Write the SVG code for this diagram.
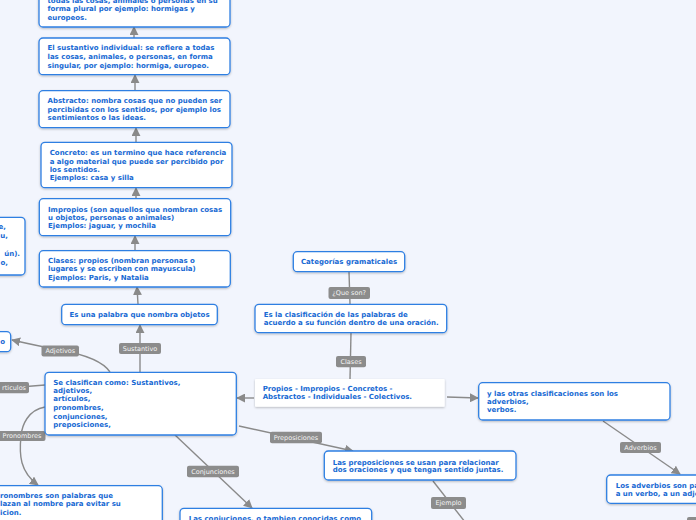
<svg xmlns="http://www.w3.org/2000/svg" width="696" height="520" viewBox="0 0 696 520">
<defs>
<filter id="sh" x="-10%" y="-20%" width="120%" height="150%">
<feDropShadow dx="0" dy="1" stdDeviation="0.8" flood-color="#000" flood-opacity="0.25"/>
</filter>
<marker id="ah" markerUnits="userSpaceOnUse" markerWidth="9" markerHeight="9" viewBox="0 0 10 10" refX="9" refY="5" orient="auto">
<path d="M0,0 L10,5 L0,10 Z" fill="#8a8a8a"/>
</marker>
<style>
.n{fill:#fff;stroke:#2f7fe2;stroke-width:1.3;filter:url(#sh)}
.p{fill:#fff;stroke:none;filter:url(#sh)}
.t{font-family:"DejaVu Sans",Verdana,sans-serif;font-weight:bold;font-size:7px;fill:#1769d3}
.c{fill:none;stroke:#8a8a8a;stroke-width:1.4}
.lb{fill:#8c8c8c}
.lt{font-family:"DejaVu Sans",Verdana,sans-serif;font-size:6.5px;fill:#f4f4f4;text-anchor:middle}
</style>
</defs>
<rect width="696" height="520" fill="#f2f5fd"/>

<g id="connectors">
<path class="c" d="M134,38 L134,27" marker-end="url(#ah)"/>
<path class="c" d="M135,91 L135,75" marker-end="url(#ah)"/>
<path class="c" d="M136,142 L136,128" marker-end="url(#ah)"/>
<path class="c" d="M136,199 L136,188" marker-end="url(#ah)"/>
<path class="c" d="M135,251 L135,236" marker-end="url(#ah)"/>
<path class="c" d="M138,304 L137,287" marker-end="url(#ah)"/>
<path class="c" d="M140,372 L140,325" marker-end="url(#ah)"/>
<path class="c" d="M110,372 C102,360 82,354 60,350 S25,343 12,340" marker-end="url(#ah)"/>
<path class="c" d="M45,385 L20,387"/>
<path class="c" d="M45,407 C28,410 22,425 21,436 C19,455 20,472 38,485" marker-end="url(#ah)"/>
<path class="c" d="M175,435 L252,508" marker-end="url(#ah)"/>
<path class="c" d="M239,426 L353,451" marker-end="url(#ah)"/>
<path class="c" d="M433,481 L465,522"/>
<path class="c" d="M254,398 L237,398" marker-end="url(#ah)"/>
<path class="c" d="M447,397 L478,398" marker-end="url(#ah)"/>
<path class="c" d="M349,272 L350,304"/>
<path class="c" d="M351,333 L350,379"/>
<path class="c" d="M603,421 L680,474" marker-end="url(#ah)"/>

<rect class="lb" x="119" y="343" width="42" height="11" rx="2"/>
<text class="lt" x="140" y="350.8">Sustantivo</text>
<rect class="lb" x="41.5" y="345.5" width="37.5" height="11" rx="2"/>
<text class="lt" x="60.3" y="353.3">Adjetivos</text>
<rect class="lb" x="-10" y="382" width="39" height="11.3" rx="2"/>
<text class="lt" x="26" y="389.8" style="text-anchor:end">rticulos</text>
<rect class="lb" x="-6" y="431" width="51.5" height="10" rx="2"/>
<text class="lt" x="22" y="438.3">Pronombres</text>
<rect class="lb" x="187" y="465.7" width="52" height="11.5" rx="2"/>
<text class="lt" x="213" y="473.6">Conjunciones</text>
<rect class="lb" x="270" y="431.7" width="52" height="11.5" rx="2"/>
<text class="lt" x="296" y="439.6">Preposiciones</text>
<rect class="lb" x="431" y="497" width="35" height="12" rx="2"/>
<text class="lt" x="448.5" y="505.2">Ejemplo</text>
<rect class="lb" x="328.5" y="287" width="41.5" height="12" rx="2"/>
<text class="lt" x="349.2" y="295.2">¿Que son?</text>
<rect class="lb" x="336" y="356" width="30" height="11.3" rx="2"/>
<text class="lt" x="351" y="364">Clases</text>
<rect class="lb" x="620" y="442" width="41" height="11" rx="2"/>
<text class="lt" x="640.5" y="449.8">Adverbios</text>
<rect class="lb" x="687" y="517" width="20" height="10" rx="2"/>
</g>

<g id="n-colectivo">
<rect class="n" x="39" y="-10" width="191" height="37" rx="4"/>
<text class="t" x="47.5" y="2.5">todas las cosas, animales o personas en su</text>
<text class="t" x="47.5" y="11.2">forma plural por ejemplo: hormigas y</text>
<text class="t" x="47.5" y="19.8">europeos.</text>
</g>

<g id="n-individual">
<rect class="n" x="39" y="38" width="191" height="36.7" rx="4"/>
<text class="t" x="47.5" y="50.2">El sustantivo individual:  se refiere a todas</text>
<text class="t" x="47.5" y="58.8">las cosas, animales, o personas, en forma</text>
<text class="t" x="47.5" y="67.5">singular, por ejemplo: hormiga, europeo.</text>
</g>

<g id="n-abstracto">
<rect class="n" x="39" y="90.7" width="191" height="37" rx="4"/>
<text class="t" x="47.5" y="102.8">Abstracto: nombra cosas que no pueden ser</text>
<text class="t" x="47.5" y="111.5">percibidas con los sentidos, por ejemplo los</text>
<text class="t" x="47.5" y="119.8">sentimientos o las ideas.</text>
</g>

<g id="n-concreto">
<rect class="n" x="41" y="142.3" width="191" height="45.4" rx="4"/>
<text class="t" x="49.7" y="155.2">Concreto: es un termino que hace referencia</text>
<text class="t" x="49.7" y="163.5">a algo material que puede ser percibido por</text>
<text class="t" x="49.7" y="171.8">los sentidos.</text>
<text class="t" x="49.7" y="179.8">Ejemplos: casa y silla</text>
</g>

<g id="n-impropios">
<rect class="n" x="39.3" y="198.7" width="191.4" height="37" rx="4"/>
<text class="t" x="48" y="211.5">Impropios (son aquellos que nombran cosas</text>
<text class="t" x="48" y="220.2">u objetos, personas o animales)</text>
<text class="t" x="48" y="228.2">Ejemplos: jaguar, y mochila</text>
</g>

<g id="n-clases">
<rect class="n" x="39.3" y="250.7" width="191" height="36.3" rx="4"/>
<text class="t" x="48" y="262.8">Clases: propios (nombran personas o</text>
<text class="t" x="48" y="270.8">lugares y se escriben con mayuscula)</text>
<text class="t" x="48" y="279.5">Ejemplos: Paris, y Natalia</text>
</g>

<g id="n-left-top">
<rect class="n" x="-20" y="217.3" width="45" height="57.7" rx="4"/>
<text class="t" x="6" y="228.5" style="text-anchor:end">e,</text>
<text class="t" x="8" y="238" style="text-anchor:end">u,</text>
<text class="t" x="20" y="256" style="text-anchor:end">ún).</text>
<text class="t" x="8" y="265" style="text-anchor:end">o,</text>
</g>

<g id="n-palabra">
<rect class="n" x="61.7" y="304.3" width="155.6" height="20.4" rx="4"/>
<text class="t" x="139.5" y="316.8" style="text-anchor:middle">Es una palabra que nombra objetos</text>
</g>

<g id="n-adjetivos">
<rect class="n" x="-20" y="331.7" width="30.7" height="20" rx="4"/>
<text class="t" x="5" y="343.5" style="text-anchor:end">o</text>
</g>

<g id="n-main">
<rect class="n" x="45" y="372.3" width="191.3" height="62.7" rx="4"/>
<text class="t" x="53.3" y="385.2">Se clasifican como: Sustantivos,</text>
<text class="t" x="53.3" y="392.8">adjetivos,</text>
<text class="t" x="53.3" y="401.2">artículos,</text>
<text class="t" x="53.3" y="409.8">pronombres,</text>
<text class="t" x="53.3" y="418.8">conjunciones,</text>
<text class="t" x="53.3" y="426.8">preposiciones,</text>
</g>

<g id="n-pronombres">
<rect class="n" x="-20" y="485.7" width="182.3" height="50" rx="4"/>
<text class="t" x="0" y="497.8">ronombres son palabras que</text>
<text class="t" x="0" y="505.8">lazan al nombre para evitar su</text>
<text class="t" x="0" y="514.5">icion.</text>
</g>

<g id="n-conjunciones">
<rect class="n" x="180" y="508.3" width="191.7" height="30" rx="4"/>
<text class="t" x="188.7" y="521.2">Las conjuciones, o tambien conocidas como</text>
</g>

<g id="n-preposiciones">
<rect class="n" x="324.3" y="451" width="191.7" height="29" rx="4"/>
<text class="t" x="332.7" y="464.5">Las preposiciones se usan para relacionar</text>
<text class="t" x="332.7" y="471.8">dos oraciones y que tengan sentido juntas.</text>
</g>

<g id="n-categorias">
<rect class="n" x="293.3" y="251.7" width="111.4" height="20" rx="4"/>
<text class="t" x="349" y="264.2" style="text-anchor:middle">Categorías gramaticales</text>
</g>

<g id="n-clasificacion">
<rect class="n" x="255" y="304.3" width="191.7" height="28.4" rx="4"/>
<text class="t" x="263.7" y="316.8">Es la clasificación de las palabras de</text>
<text class="t" x="263.7" y="324.8">acuerdo a su función dentro de una oración.</text>
</g>

<g id="n-propios">
<rect class="p" x="255" y="379" width="189.7" height="27.7" rx="1"/>
<text class="t" x="262.7" y="390.8">Propios - Impropios - Concretos -</text>
<text class="t" x="262.7" y="399.2">Abstractos - Individuales - Colectivos.</text>
</g>

<g id="n-otras">
<rect class="n" x="478.7" y="382.7" width="191.3" height="37.3" rx="4"/>
<text class="t" x="487" y="395.8">y las otras clasificaciones son los</text>
<text class="t" x="487" y="404.2">adverbios,</text>
<text class="t" x="487" y="412.2">verbos.</text>
</g>

<g id="n-adverbios">
<rect class="n" x="606.7" y="475" width="120" height="28.3" rx="4"/>
<text class="t" x="615.7" y="487.5">Los adverbios son pa</text>
<text class="t" x="615.7" y="495.8">a un verbo, a un adje</text>
</g>
</svg>
